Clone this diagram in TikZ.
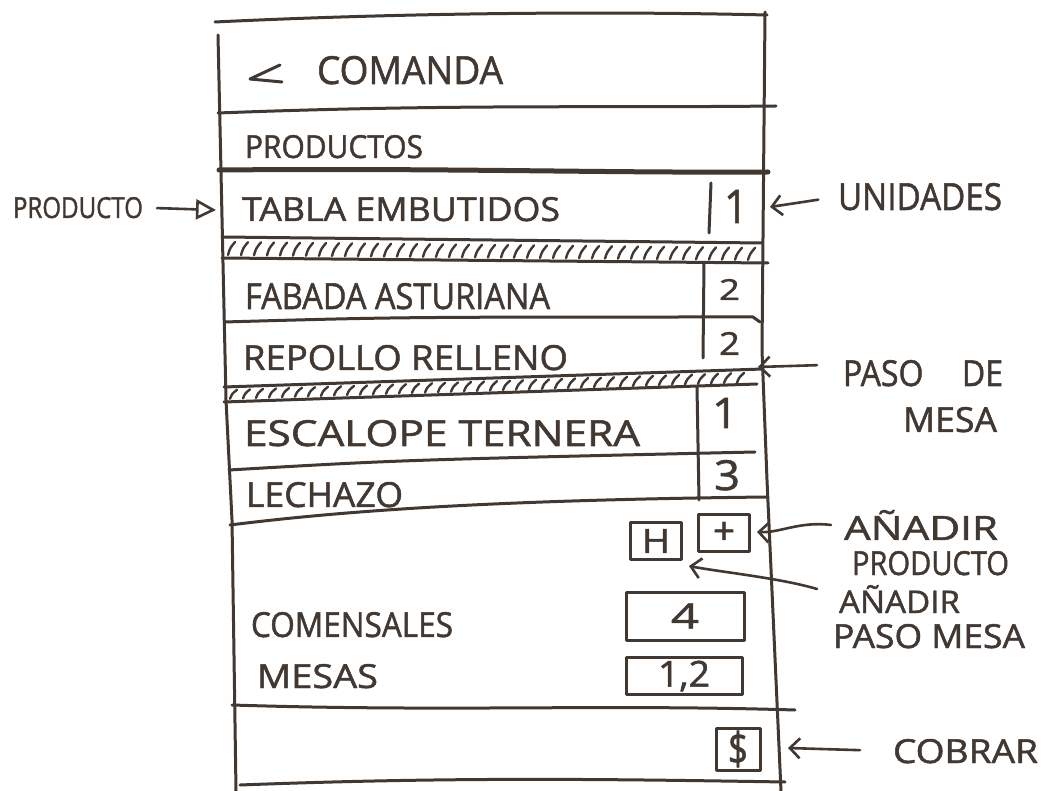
\documentclass[tikz,border=0pt]{standalone}
\usepackage{fontspec}
\setmainfont{Open Sans}
\newfontfamily\handfont[FakeBold=1.4]{Open Sans}
\usetikzlibrary{arrows.meta}
\definecolor{ink}{RGB}{66,56,50}
% text scaled to a given width and cap height
\newcommand\hw[3]{\resizebox{#1pt}{#2pt}{\handfont #3}}

\begin{document}
\begin{tikzpicture}[x=1pt,y=-1pt, line cap=round, line join=round,
  inkline/.style={draw=ink, line width=3pt},
  thickline/.style={draw=ink, line width=5pt},
  hatchline/.style={draw=ink, line width=2.4pt},
  lbl/.style={anchor=base west, inner sep=0pt, outer sep=0pt, text=ink},
  box/.style={draw=ink, line width=3pt, inner sep=0pt, text=ink},
  callout/.style={draw=ink, line width=2.6pt, -{Straight Barb[length=10pt,width=20pt,line width=2.6pt]}}]

\useasboundingbox (0,0) rectangle (1045,791);
\fill[white] (0,0) rectangle (1045,791);

% ---- phone frame ----
\draw[inkline] (215,22) .. controls (400,13) and (600,11) .. (767,15);
\draw[inkline] (218,35) -- (226,400) -- (232,520) -- (236,791);
\draw[inkline] (765,12) -- (762,350) -- (767,480) -- (781,791);

% header and section rules
\draw[inkline] (218,113) .. controls (450,104) and (600,108) .. (776,106);
\draw[inkline] (232,705) .. controls (450,712) and (600,704) .. (795,710);
\draw[inkline] (240,785) .. controls (450,777) and (600,779) .. (785,782);

% back arrow of the title bar
\draw[inkline] (280,65) -- (250,79) -- (282,82);

% thick rule under PRODUCTOS
\draw[thickline] (219,170) .. controls (450,168) and (600,173) .. (768,172);

% row separators
\draw[inkline] (222,237) -- (762,243);
\draw[inkline] (222,258) -- (768,263);
\draw[inkline] (224,322) .. controls (400,317) .. (753,317) -- (760,322);
\draw[inkline] (224,387) -- (763,369);
\draw[inkline] (224,402) -- (757,384);
\draw[inkline] (229,470) .. controls (400,460) .. (755,452);
\draw[inkline] (230,525) .. controls (350,510) and (500,500) .. (767,497);

% hatched course separators
\foreach \x in {228,241,...,750}
  \draw[hatchline] (\x,{255+5*(\x-222)/540}) .. controls (\x+2,{248+6*(\x-222)/540}) .. (\x+7,{242+6*(\x-222)/540});
\foreach \x in {230,243,...,745}
  \draw[hatchline] (\x,{399-17*(\x-224)/533}) .. controls (\x+2,{394-17*(\x-224)/533}) .. (\x+7,{390-18*(\x-224)/539});

% quantity column dividers
\draw[inkline] (711,183) -- (709,233);
\draw[inkline] (704,263) -- (703,358);
\draw[inkline] (697,387) -- (699,500);

% ---- texts in the screen ----
\node[lbl] (comanda) at (317,84) {\hw{186}{28}{COMANDA}};
\node[lbl] (productos) at (245,158) {\hw{178}{23}{PRODUCTOS}};
\node[lbl] (r1) at (242,221) {\hw{318}{24}{TABLA EMBUTIDOS}};
\node[lbl] (q1) at (724,223) {\hw{24}{33}{1}};
\node[lbl] (r2) at (245,309) {\hw{305}{26}{FABADA ASTURIANA}};
\node[lbl] (q2) at (719,300) {\hw{21}{21}{2}};
\node[lbl] (r3) at (243,370) {\hw{325}{25}{REPOLLO RELLENO}};
\node[lbl] (q3) at (719,355) {\hw{21}{23}{2}};
\node[lbl] (r4) at (244,446) {\hw{396}{26}{ESCALOPE TERNERA}};
\node[lbl] (q4) at (712,428) {\hw{26}{30}{1}};
\node[lbl] (r5) at (246,507) {\hw{157}{25}{LECHAZO}};
\node[lbl] (q5) at (714,490) {\hw{26}{30}{3}};

\node[box, minimum width=51pt, minimum height=37pt] (hbtn) at (656,541) {\hw{28}{24}{H}};
\node[box, minimum width=51pt, minimum height=37pt] (plusbtn) at (724,533) {\hw{22}{22}{+}};

\node[lbl] (comensales) at (251,637) {\hw{202}{25}{COMENSALES}};
\node[lbl] (mesas) at (257,688) {\hw{121}{24}{MESAS}};
\node[box, minimum width=118pt, minimum height=48pt] (comfield) at (685,616) {\hw{28}{25}{4}};
\node[box, minimum width=116pt, minimum height=37pt] (mesfield) at (684,676) {\hw{52}{26}{1,2}};
\node[box, minimum width=44pt, minimum height=42pt] (paybtn) at (738,749) {\hw{20}{34}{\$}};

% ---- annotations ----
\node[lbl] (producto) at (13,218) {\hw{130}{21}{PRODUCTO}};
\node[lbl] (unidades) at (838,210) {\hw{164}{27}{UNIDADES}};
\node[lbl] (pasode) at (843,386) {\hw{160}{26}{PASO\hspace{1.2em}DE}};
\node[lbl] (mesa) at (903,432) {\hw{94}{25}{MESA}};
\node[lbl] (anadirA) at (844,540) {\hw{154}{30}{AÑADIR}};
\node[lbl] (productoA) at (852,575) {\hw{157}{24}{PRODUCTO}};
\node[lbl] (anadirB) at (839,613) {\hw{121}{28}{AÑADIR}};
\node[lbl] (pasomesa) at (833,648) {\hw{192}{24}{PASO MESA}};
\node[lbl] (cobrar) at (893,763) {\hw{145}{24}{COBRAR}};

\coordinate (rowtip) at (216,210);
\coordinate (unitip) at (770,207);
\coordinate (bandtip) at (758,367);
\coordinate (addtip) at (757,532);
\coordinate (steptip) at (689,566);
\coordinate (paytip) at (788,748);

\draw[draw=ink, line width=2.6pt, -{Triangle[open,length=20pt,width=20pt,line width=2.6pt]}, shorten <=14pt] (producto.east) -- (rowtip);
\draw[callout, shorten <=20pt] (unidades.west) -- (unitip);
\draw[callout] ([shift={(-26,-8)}]pasode.west) -- (bandtip);
\draw[callout] ([xshift=-13pt]anadirA.west) .. controls (800,521) and (780,533) .. (addtip);
\draw[callout] ([shift={(-22,-10)}]anadirB.west) .. controls (780,578) and (720,572) .. (steptip);
\draw[callout, shorten <=33pt] (cobrar.west) -- (paytip);
\end{tikzpicture}
\end{document}
